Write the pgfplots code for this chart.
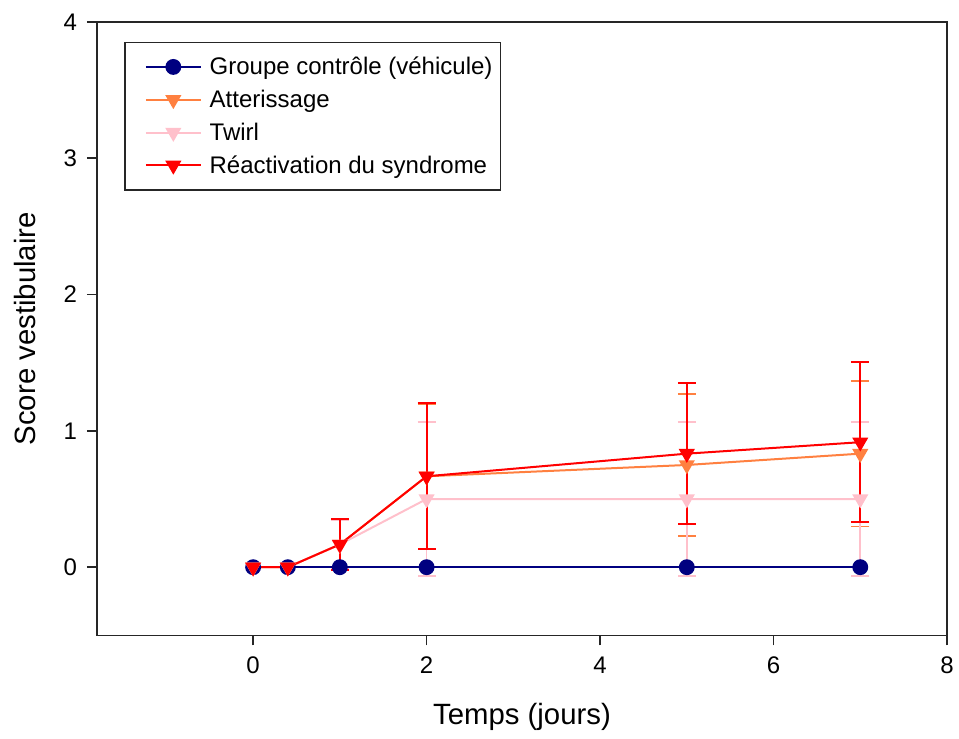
\documentclass[border=0pt]{standalone}
\usepackage{pgfplots}
\pgfplotsset{compat=1.18}
\usepackage{fontspec}
\setmainfont{Liberation Sans}
\definecolor{cnavy}{RGB}{0,0,128}
\definecolor{corange}{RGB}{255,128,64}
\definecolor{cpink}{RGB}{255,192,203}
\definecolor{cred}{RGB}{255,0,0}
\begin{document}
\begin{tikzpicture}
\begin{axis}[
  scale only axis,
  width=637.5pt, height=460pt,
  xmin=-1.8, xmax=8, ymin=-0.5, ymax=4,
  xtick={0,2,4,6,8}, ytick={0,1,2,3,4},
  axis line style={line width=1.2pt, black!85},
  tick style={line width=1.2pt, black!85},
  tick align=outside, major tick length=7.5pt,
  xtick pos=bottom, ytick pos=left,
  /pgf/number format/assume math mode=true,
  xticklabel style={font=\fontsize{18}{20}\selectfont, yshift=-5pt},
  yticklabel style={font=\fontsize{18}{20}\selectfont, xshift=-4pt},
  xlabel={Temps (jours)}, ylabel={Score vestibulaire},
  every axis x label/.style={at={(axis description cs:0.5,-0.1338)}, anchor=center, font=\fontsize{22}{24}\selectfont},
  every axis y label/.style={at={(axis description cs:-0.0847,0.5)}, anchor=center, rotate=90, font=\fontsize{22}{24}\selectfont},
  legend style={at={(0.032,0.968)}, anchor=north west, draw=black!85, line width=1.2pt,
    font=\fontsize{18}{20}\selectfont, row sep=6pt, column sep=4pt, inner xsep=4pt, inner ysep=9pt},
  legend cell align=left,
  legend image code/.code={\path (0pt,0pt); \draw[mark repeat=2,mark phase=2] plot coordinates {(11pt,0pt) (31.5pt,0pt) (52pt,0pt)};},
  error bars/y dir=both, error bars/y explicit,
]
\addplot[cnavy, line width=1.5pt, mark=*, mark size=5.2pt, mark options={solid}]
  coordinates {(0,0) (0.4,0) (1,0) (2,0) (5,0) (7,0)};
\addlegendentry{Groupe contrôle (véhicule)}
\addplot[corange, line width=1.5pt, mark=triangle*, mark size=5.5pt, mark options={rotate=180},
  error bars/error bar style={line width=1.3pt}, error bars/error mark options={rotate=90, mark size=6.75pt, line width=1.3pt}]
  coordinates {(0,0) (0.4,0) (1,0.167) +- (0,0.18) (2,0.667) +- (0,0.53) (5,0.75) +- (0,0.52) (7,0.833) +- (0,0.535)};
\addlegendentry{Atterissage}
\addplot[cpink, line width=1.5pt, mark=triangle*, mark size=5.5pt, mark options={rotate=180},
  error bars/error bar style={line width=1.3pt}, error bars/error mark options={rotate=90, mark size=6.75pt, line width=1.3pt}]
  coordinates {(0,0) (0.4,0) (1,0.167) +- (0,0.18) (2,0.5) +- (0,0.565) (5,0.5) +- (0,0.565) (7,0.5) +- (0,0.565)};
\addlegendentry{Twirl}
\addplot[cred, line width=1.5pt, mark=triangle*, mark size=5.5pt, mark options={rotate=180},
  error bars/error bar style={line width=1.5pt}, error bars/error mark options={rotate=90, mark size=6.75pt, line width=1.5pt}]
  coordinates {(0,0) (0.4,0) (1,0.167) +- (0,0.185) (2,0.667) +- (0,0.535) (5,0.833) +- (0,0.515) (7,0.917) +- (0,0.585)};
\addlegendentry{Réactivation du syndrome}
\end{axis}
\pgfresetboundingbox
\path[use as bounding box] ([shift={(-72.75pt,-77.25pt)}]current axis.south west) rectangle ([shift={(9pt,16.5pt)}]current axis.north east);
\end{tikzpicture}
\end{document}
